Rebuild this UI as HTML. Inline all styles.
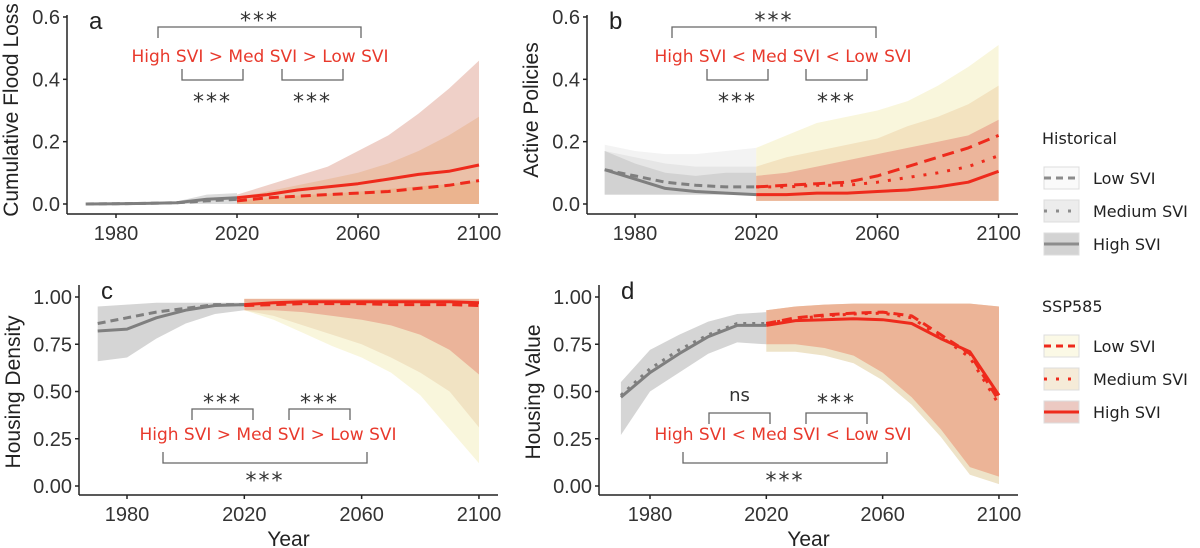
<!DOCTYPE html>
<html><head><meta charset="utf-8"><style>
body{margin:0;background:#fff;}
svg{display:block;font-family:"Liberation Sans",sans-serif;}
.tk{font-size:20px;fill:#333;}
.ti{font-size:21px;fill:#222;}
.an{font-size:17px;fill:#e8392c;font-family:"DejaVu Sans",sans-serif;}
.st{font-size:22px;fill:#333;letter-spacing:2px;font-family:"DejaVu Sans",sans-serif;}
.ns{font-size:18px;fill:#333;font-family:"DejaVu Sans",sans-serif;}
.lg{font-size:16px;fill:#222;font-family:"DejaVu Sans",sans-serif;}
</style></head><body>
<svg id="fig" width="1200" height="548" viewBox="0 0 1200 548"></svg>
<script>
const histYears=[1970,1980,1990,2000,2010,2020];
const projYears=[2020,2030,2040,2050,2060,2070,2080,2090,2100];
// Panel a: cumulative flood loss
const aHistHigh=[0,0.001,0.002,0.004,0.015,0.02];
const aHistLow=[0,0.001,0.002,0.004,0.01,0.015];
const aHistUp=[0.001,0.002,0.004,0.008,0.03,0.035];
const aProjHigh=[0.02,0.03,0.045,0.055,0.065,0.08,0.095,0.105,0.125];
const aProjLow=[0.01,0.02,0.025,0.03,0.035,0.04,0.05,0.06,0.075];
const aBandHighUp=[0.03,0.06,0.09,0.12,0.17,0.22,0.29,0.37,0.46];
const aBandMedUp=[0.02,0.04,0.06,0.08,0.1,0.13,0.17,0.22,0.28];
// Panel b: active policies
const bHistHigh=[0.11,0.08,0.05,0.04,0.035,0.03];
const bHistLow=[0.11,0.09,0.07,0.06,0.055,0.055];
const bHistBandLow=[0.19,0.17,0.16,0.16,0.17,0.18];
const bHistBandMed=[0.17,0.15,0.13,0.12,0.12,0.12];
const bHistBandHigh=[0.17,0.13,0.1,0.09,0.1,0.1];
const bProjHigh=[0.03,0.03,0.035,0.035,0.04,0.045,0.055,0.07,0.105];
const bProjMed=[0.055,0.055,0.06,0.06,0.07,0.085,0.1,0.12,0.155];
const bProjLow=[0.055,0.06,0.065,0.07,0.09,0.12,0.15,0.18,0.22];
const bBandLowUp=[0.18,0.22,0.26,0.28,0.3,0.33,0.38,0.44,0.51];
const bBandMedUp=[0.12,0.15,0.17,0.19,0.21,0.25,0.28,0.32,0.38];
const bBandHighUp=[0.09,0.1,0.12,0.14,0.16,0.18,0.2,0.22,0.27];
// Panel c: housing density
const cHistHigh=[0.82,0.83,0.89,0.93,0.955,0.96];
const cHistLow=[0.86,0.89,0.92,0.94,0.96,0.96];
const cHistUp=[0.95,0.96,0.97,0.97,0.97,0.97];
const cHistDown=[0.66,0.68,0.78,0.86,0.91,0.93];
const cProjHigh=[0.96,0.97,0.975,0.975,0.975,0.975,0.975,0.975,0.97];
const cProjLow=[0.955,0.96,0.965,0.965,0.965,0.96,0.96,0.96,0.955];
const cBandUp=[0.99,0.99,0.99,0.99,0.99,0.99,0.99,0.99,0.99];
const cBandHighDown=[0.93,0.93,0.92,0.9,0.88,0.85,0.8,0.72,0.59];
const cBandMedDown=[0.93,0.9,0.85,0.8,0.75,0.68,0.6,0.5,0.31];
const cBandLowDown=[0.93,0.88,0.81,0.74,0.68,0.6,0.48,0.3,0.12];
// Panel d: housing value
const dHistHigh=[0.47,0.6,0.7,0.79,0.85,0.85];
const dHistLow=[0.48,0.62,0.72,0.8,0.86,0.86];
const dHistUp=[0.55,0.72,0.8,0.87,0.91,0.92];
const dHistDown=[0.27,0.5,0.6,0.7,0.76,0.75];
const dProjHigh=[0.85,0.875,0.88,0.885,0.88,0.86,0.78,0.71,0.48];
const dProjMed=[0.86,0.885,0.9,0.91,0.915,0.89,0.79,0.68,0.43];
const dProjLow=[0.86,0.89,0.905,0.915,0.92,0.9,0.8,0.7,0.45];
const dBandUp=[0.93,0.95,0.96,0.965,0.965,0.965,0.965,0.965,0.95];
const dBandDown=[0.75,0.75,0.73,0.69,0.6,0.47,0.3,0.1,0.05];
const ticksTop=[0,0.2,0.4,0.6];
const ticksBot=[0,0.25,0.5,0.75,1];
const ticksTopLabels=["0.0","0.2","0.4","0.6"];
const ticksBotLabels=["0.00","0.25","0.50","0.75","1.00"];
const xTicks=[1980,2020,2060,2100];

const NS="http://www.w3.org/2000/svg";
const svg=document.getElementById('fig');
function mk(tag,attrs,parent){const e=document.createElementNS(NS,tag);for(const k in attrs)e.setAttribute(k,attrs[k]);(parent||svg).appendChild(e);return e;}
function txt(s,attrs,parent){const e=mk('text',attrs,parent);e.textContent=s;return e;}

function panel(p){
  const g=mk('g',{});
  
  
  const x=y=>p.x0+(y-1980)*p.kx;
  const yv=v=>p.y0-(v-p.v0)*p.ky;
  return {g,x,yv};
}
function band(P,years,up,down,fill,name){
  let d='';
  years.forEach((yr,i)=>{d+=(i?'L':'M')+P.x(yr).toFixed(1)+','+P.yv(up[i]).toFixed(1);});
  for(let i=years.length-1;i>=0;i--){d+='L'+P.x(years[i]).toFixed(1)+','+P.yv(down?down[i]:0).toFixed(1);}
  const e=mk('path',{d:d+'Z',fill:fill,stroke:'none'},P.g);
  
  
}
function line(P,years,vals,color,dash,name,w){
  const pts=years.map((yr,i)=>P.x(yr).toFixed(1)+','+P.yv(vals[i]).toFixed(1)).join(' ');
  const e=mk('polyline',{points:pts,fill:'none',stroke:color,'stroke-width':w||3,'stroke-dasharray':dash||'none','stroke-linejoin':'round'},P.g);
  
  
}
function axes(P,cfg){
  const ax=mk('g',{},P.g);
  
  
  mk('line',{x1:cfg.ax,y1:cfg.axTop,x2:cfg.ax,y2:cfg.axBot,stroke:'#222','stroke-width':1.5},ax);
  mk('line',{x1:cfg.ax,y1:cfg.axBot,x2:cfg.axRight,y2:cfg.axBot,stroke:'#222','stroke-width':1.5},ax);
  cfg.yt.forEach((v,i)=>{
    const yy=P.yv(v);
    mk('line',{x1:cfg.ax-4,y1:yy,x2:cfg.ax,y2:yy,stroke:'#222','stroke-width':1.5},ax);
    const t=txt(cfg.ytl[i],{x:cfg.ax-7,y:yy+7,'text-anchor':'end',class:'tk'},ax);
    
    
  });
  xTicks.forEach(v=>{
    const xx=P.x(v);
    mk('line',{x1:xx,y1:cfg.axBot,x2:xx,y2:cfg.axBot+4,stroke:'#222','stroke-width':1.5},ax);
    const t=txt(String(v),{x:xx,y:cfg.axBot+26,'text-anchor':'middle',class:'tk'},ax);
    
    
  });
  const yt=txt(cfg.title,{x:0,y:0,'text-anchor':'middle',class:'ti',transform:`translate(${cfg.titleX},${cfg.titleY}) rotate(-90)`},ax);
  
  
  if(cfg.xtitle){const xt=txt('Year',{x:(cfg.ax+cfg.axRight)/2,y:546,'text-anchor':'middle',class:'ti'},ax);
    
    }
  const lt=txt(cfg.letter,{x:cfg.ax+22,y:cfg.axTop+14,class:'ti',style:'font-size:24px'},ax);
  
  
}
function bracket(P,x1,x2,y,dir,label,ly){
  const g=mk('g',{},P.g);
  
  
  mk('path',{d:`M${x1},${y+dir*11}V${y}H${x2}V${y+dir*11}`,fill:'none',stroke:'#666','stroke-width':1.3},g);
  if(label==='ns') txt(label,{x:(x1+x2)/2,y:ly,'text-anchor':'middle',class:'ns'},g);
  else txt(label,{x:(x1+x2)/2,y:ly+8,'text-anchor':'middle',class:'st'},g);
}
function redText(P,cx,y,s){
  const t=txt(s,{x:cx,y:y,'text-anchor':'middle',class:'an'},P.g);
  
  
}
const GREY='#7f7f7f',RED='#ee2a1c';

// Panel a
{const P={name:'panel-a-flood-loss',x0:116,kx:3.025,y0:204,v0:0,ky:311.7};const r=panel(P);Object.assign(P,r);
 band(P,histYears,aHistUp,null,'#dcdcdc','hist-band');
 band(P,projYears,aBandHighUp,null,'#efd0c8','band-high-svi');
 band(P,projYears,aBandMedUp,null,'#ebc0a8','band-medium-svi');
 band(P,projYears,aProjHigh.map(v=>v*0.6),null,'#ebb48f','band-low-svi');
 line(P,histYears,aHistLow,GREY,'8,5','hist-low-svi');
 line(P,histYears,aHistHigh,GREY,null,'hist-high-svi');
 line(P,projYears,aProjLow,RED,'10,6','ssp-low-svi');
 line(P,projYears,aProjHigh,RED,null,'ssp-high-svi');
 axes(P,{id:'a',ax:67,axTop:15,axBot:214,axRight:498,yt:ticksTop,ytl:ticksTopLabels,title:'Cumulative Flood Loss',titleX:18,titleY:110,letter:'a'});
 bracket(P,158,361,27,1,'***',20);redText(P,260,62,'High SVI > Med SVI > Low SVI');
 bracket(P,182,243,80,-1,'***',101);bracket(P,282,343,80,-1,'***',101);}
// Panel b
{const P={name:'panel-b-active-policies',x0:635,kx:3.03,y0:204,v0:0,ky:311.7};const r=panel(P);Object.assign(P,r);
 band(P,histYears,bHistBandLow,histYears.map(()=>0.03),'#f3f3f3','hist-band-low');
 band(P,histYears,bHistBandMed,histYears.map(()=>0.03),'#e6e6e6','hist-band-medium');
 band(P,histYears,bHistBandHigh,histYears.map(()=>0.03),'#d2d2d2','hist-band-high');
 band(P,projYears,bBandLowUp,projYears.map(()=>0.01),'#f9f6dc','band-low-svi');
 band(P,projYears,bBandMedUp,projYears.map(()=>0.01),'#f3e3c0','band-medium-svi');
 band(P,projYears,bBandHighUp,projYears.map(()=>0.01),'#ecb59b','band-high-svi');
 line(P,histYears,bHistLow,GREY,'8,5','hist-low-svi');
 line(P,histYears,bHistHigh,GREY,null,'hist-high-svi');
 line(P,projYears,bProjLow,RED,'12,7','ssp-low-svi');
 line(P,projYears,bProjMed,RED,'3,9','ssp-medium-svi');
 line(P,projYears,bProjHigh,RED,null,'ssp-high-svi');
 axes(P,{id:'b',ax:587,axTop:15,axBot:214,axRight:1018,yt:ticksTop,ytl:ticksTopLabels,title:'Active Policies',titleX:538,titleY:110,letter:'b'});
 bracket(P,672,876,27,1,'***',20);redText(P,783,62,'High SVI < Med SVI < Low SVI');
 bracket(P,707,768,80,-1,'***',101);bracket(P,806,867,80,-1,'***',101);}
// Panel c
{const P={name:'panel-c-housing-density',x0:127,kx:2.933,y0:486,v0:0,ky:189};const r=panel(P);Object.assign(P,r);
 band(P,histYears,cHistUp,cHistDown,'#d5d5d5','hist-band');
 band(P,projYears,cBandUp,cBandLowDown,'#f9f6dc','band-low-svi');
 band(P,projYears,cBandUp,cBandMedDown,'#f1e3c3','band-medium-svi');
 band(P,projYears,cBandUp,cBandHighDown,'#ebb49a','band-high-svi');
 line(P,histYears,cHistLow,GREY,'8,5','hist-low-svi');
 line(P,histYears,cHistHigh,GREY,null,'hist-high-svi');
 line(P,projYears,cProjLow,RED,'10,6','ssp-low-svi');
 line(P,projYears,cProjHigh,RED,null,'ssp-high-svi');
 axes(P,{id:'c',ax:79,axTop:285,axBot:495,axRight:498,yt:ticksBot,ytl:ticksBotLabels,title:'Housing Density',titleX:20,titleY:392,letter:'c',xtitle:true});
 bracket(P,192,253,409,1,'***',402);bracket(P,289,350,409,1,'***',402);
 redText(P,268,440,'High SVI > Med SVI > Low SVI');
 bracket(P,163,367,463,-1,'***',480);}
// Panel d
{const P={name:'panel-d-housing-value',x0:650,kx:2.908,y0:486,v0:0,ky:189};const r=panel(P);Object.assign(P,r);
 band(P,histYears,dHistUp,dHistDown,'#d5d5d5','hist-band');
 band(P,projYears,dBandUp,dBandDown.map(v=>Math.max(0,v-0.04)),'#eee3c8','band-low-svi');
 band(P,projYears,dBandUp,dBandDown,'#ecb497','band-high-svi');
 line(P,histYears,dHistLow,GREY,'3,6','hist-medium-svi');
 line(P,histYears,dHistHigh,GREY,null,'hist-high-svi');
 line(P,projYears,dProjLow,RED,'10,6','ssp-low-svi');
 line(P,projYears,dProjMed,RED,'3,8','ssp-medium-svi');
 line(P,projYears,dProjHigh,RED,null,'ssp-high-svi');
 axes(P,{id:'d',ax:599,axTop:285,axBot:495,axRight:1018,yt:ticksBot,ytl:ticksBotLabels,title:'Housing Value',titleX:540,titleY:392,letter:'d',xtitle:true});
 bracket(P,709,770,413,1,'ns',401);bracket(P,806,867,413,1,'***',402);
 redText(P,783,440,'High SVI < Med SVI < Low SVI');
 bracket(P,683,887,463,-1,'***',480);}

// Legend
const lg=mk('g',{});


function legendGroup(title,ty,rows,color,fills){
  txt(title,{x:1042,y:ty,class:'lg'},lg);
  rows.forEach((r,i)=>{
    const yy=ty+34+i*33;
    const e=mk('g',{},lg);
    
    
    mk('rect',{x:1044,y:yy-11,width:35,height:22,fill:fills[i],stroke:'#ddd'},e);
    mk('line',{x1:1044,y1:yy,x2:1079,y2:yy,stroke:color,'stroke-width':3,'stroke-dasharray':r.d},e);
    txt(r.t,{x:1093,y:yy+6,class:'lg'},e);
  });
}
const legRows=[{t:'Low SVI',d:'7,5'},{t:'Medium SVI',d:'3,9'},{t:'High SVI',d:'none'}];
legendGroup('Historical',144,legRows,'#8c8c8c',['#fafafa','#ececec','#d3d3d3']);
legendGroup('SSP585',312,legRows,'#ee2a1c',['#fbf9e6','#f5ebd8','#ecc9c2']);
</script>
</body></html>
